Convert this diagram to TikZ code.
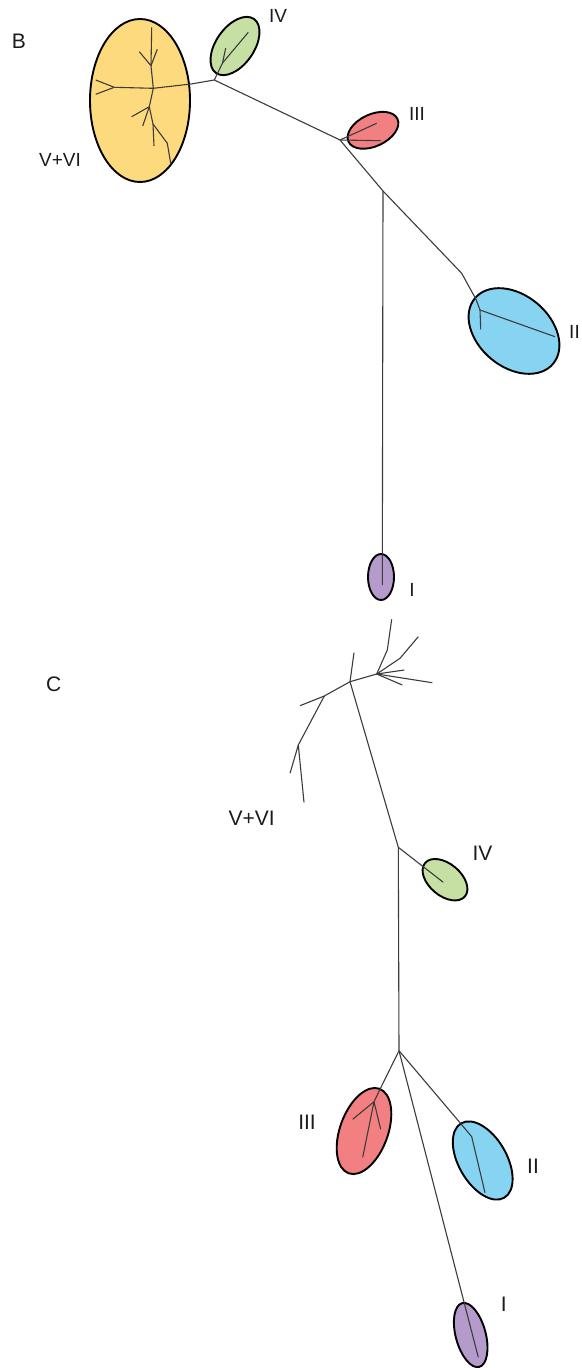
\documentclass[tikz,border=0pt]{standalone}
\usepackage{fontspec}
\setmainfont{Liberation Sans}
\usetikzlibrary{shapes.geometric}
\definecolor{cyel}{RGB}{253,218,126}
\definecolor{cgrn}{RGB}{198,224,164}
\definecolor{cred}{RGB}{242,128,130}
\definecolor{cblu}{RGB}{135,212,242}
\definecolor{cpur}{RGB}{180,155,203}
\definecolor{ctxt}{RGB}{30,25,30}
\definecolor{cbr}{RGB}{60,60,60}
\begin{document}
\begin{tikzpicture}[x=1pt,y=-1pt,
  blob/.style={ellipse,draw=black,line width=1.9pt,inner sep=0pt,outer sep=0pt},
  br/.style={draw=cbr,line width=1.1pt,line join=round},
  lab/.style={font=\fontsize{19}{21}\selectfont,text=ctxt,inner sep=0pt},
  labc/.style={font=\fontsize{21}{23}\selectfont,text=ctxt,inner sep=0pt}]
\useasboundingbox[fill=white] (0,0) rectangle (581,1368);

% ---------- Panel B : ellipses ----------
\node[blob,fill=cyel,minimum width=100pt,minimum height=163pt] (yB) at (140,100.5) {};
\node[blob,fill=cgrn,minimum width=66pt,minimum height=38pt,rotate=55] (gB) at (235,46) {};
\node[blob,fill=cred,minimum width=54pt,minimum height=32pt,rotate=25] (rB) at (373,130.3) {};
\node[blob,fill=cblu,minimum width=102pt,minimum height=72pt,rotate=-40] (bB) at (514,331) {};
\node[blob,fill=cpur,minimum width=26pt,minimum height=46pt] (pB) at (381,577) {};

% ---------- Panel B : tree ----------
\coordinate (y1) at (95.7,80);
\coordinate (y2) at (95.7,94.3);
\coordinate (yj1) at (114.3,87.3);
\coordinate (yj2) at (153.3,88.3);
\coordinate (yb) at (191,84);
\coordinate (jIV) at (214.3,80);
\coordinate (yu) at (151,65.7);
\coordinate (ytop) at (151.7,27.3);
\coordinate (yl1) at (139.3,51.7);
\coordinate (yl2) at (157.3,49.3);
\coordinate (yd) at (149.3,106.7);
\coordinate (yL1) at (131.7,116.7);
\coordinate (yL2) at (142.7,126);
\coordinate (yd2) at (153,124);
\coordinate (yL3) at (154,146);
\coordinate (yd3) at (167.3,143.3);
\coordinate (yL4) at (170.7,163.3);
\draw[br] (y1) -- (yj1);
\draw[br] (y2) -- (yj1);
\draw[br] (yj1) -- (yj2) -- (yb) -- (jIV);
\draw[br] (yj2) -- (yu) -- (ytop);
\draw[br] (yl1) -- (yu);
\draw[br] (yl2) -- (yu);
\draw[br] (yj2) -- (yd);
\draw[br] (yd) -- (yL1);
\draw[br] (yd) -- (yL2);
\draw[br] (yd) -- (yd2) -- (yL3);
\draw[br] (yd2) -- (yd3) -- (yL4);

\coordinate (g1) at (222.5,63);
\coordinate (g2) at (248.3,32.3);
\coordinate (g3) at (225.7,48);
\draw[br] (jIV) -- (g1) -- (g2);
\draw[br] (g1) -- (g3);

\coordinate (jIII) at (340,140);
\coordinate (r1) at (376.7,123.3);
\coordinate (r2) at (380.7,140.7);
\draw[br] (jIV) -- (jIII);
\draw[br] (jIII) -- (r1);
\draw[br] (jIII) -- (r2);

\coordinate (jV) at (383,191);
\coordinate (b1) at (461.7,273.3);
\coordinate (b2) at (476,299.3);
\coordinate (jB) at (480,310);
\coordinate (b3) at (555,336.7);
\coordinate (b4) at (480.7,329.3);
\draw[br] (jIII) -- (jV);
\draw[br] (jV) -- (b1) -- (b2) -- (jB) -- (b3);
\draw[br] (jB) -- (b4);

\coordinate (p1) at (382.3,585);
\draw[br] (jV) -- (p1);

% ---------- Panel B : labels ----------
\node[labc] (labB) at (19,41.5) {B};
\node[lab] (l56B) at (60,160) {V+VI};
\node[lab] (l4B) at (278,15.5) {IV};
\node[lab] (l3B) at (417,114) {III};
\node[lab] (l2B) at (574.5,331.5) {II};
\node[lab] (l1B) at (412,590) {I};

% ---------- Panel C : ellipses ----------
\node[blob,fill=cgrn,minimum width=52pt,minimum height=32pt,rotate=-40] (gC) at (445,879.7) {};
\node[blob,fill=cred,minimum width=90pt,minimum height=48pt,rotate=70] (rC) at (364,1131) {};
\node[blob,fill=cblu,minimum width=86pt,minimum height=48pt,rotate=-60] (bC) at (482.7,1160.5) {};
\node[blob,fill=cpur,minimum width=66pt,minimum height=30pt,rotate=-75] (pC) at (470.7,1335) {};

% ---------- Panel C : tree ----------
\coordinate (A) at (350,681.7);
\coordinate (Aup) at (354,652.7);
\coordinate (Bj) at (376.7,674);
\coordinate (B1) at (387.3,650);
\coordinate (B1t) at (391.7,619.3);
\coordinate (B2) at (400,658.3);
\coordinate (B2t) at (418.3,636.7);
\coordinate (B3) at (404.3,670);
\coordinate (B4) at (432.3,682.7);
\coordinate (B5) at (402.3,685);
\coordinate (Cj) at (324.3,696);
\coordinate (C1) at (300,705.7);
\coordinate (Dj) at (298.3,745);
\coordinate (D1) at (290,773.3);
\coordinate (D2) at (304,802.3);
\draw[br] (A) -- (Aup);
\draw[br] (A) -- (Bj);
\draw[br] (Bj) -- (B1) -- (B1t);
\draw[br] (Bj) -- (B2) -- (B2t);
\draw[br] (Bj) -- (B3);
\draw[br] (Bj) -- (B4);
\draw[br] (Bj) -- (B5);
\draw[br] (A) -- (Cj) -- (C1);
\draw[br] (Cj) -- (Dj);
\draw[br] (Dj) -- (D1);
\draw[br] (Dj) -- (D2);

\coordinate (E) at (398.3,847.3);
\coordinate (gE) at (443.3,882.3);
\coordinate (F) at (399,1050.7);
\draw[br] (A) -- (E);
\draw[br] (E) -- (gE);
\draw[br] (E) -- (F);

\coordinate (R0) at (380,1089.3);
\coordinate (R1) at (374,1101.7);
\coordinate (R2) at (352.7,1119.3);
\coordinate (R3) at (380.7,1129.3);
\coordinate (R4) at (362.7,1157.3);
\draw[br] (F) -- (R0) -- (R1);
\draw[br] (R1) -- (R2);
\draw[br] (R1) -- (R3);
\draw[br] (R1) -- (R4);

\coordinate (Bl1) at (460,1122.7);
\coordinate (Bl2) at (471.7,1136.7);
\coordinate (Bl3) at (485,1192.7);
\draw[br] (F) -- (Bl1) -- (Bl2) -- (Bl3);

\coordinate (I1) at (478.3,1357.3);
\draw[br] (F) -- (I1);

% ---------- Panel C : labels ----------
\node[labc] (labC) at (53.7,684) {C};
\node[labc] (l56C) at (251.7,818.7) {V+VI};
\node[labc] (l4C) at (482.5,853.3) {IV};
\node[labc] (l3C) at (307,1122) {III};
\node[labc] (l2C) at (533,1166.7) {II};
\node[labc] (l1C) at (503.7,1304.7) {I};
\end{tikzpicture}
\end{document}
